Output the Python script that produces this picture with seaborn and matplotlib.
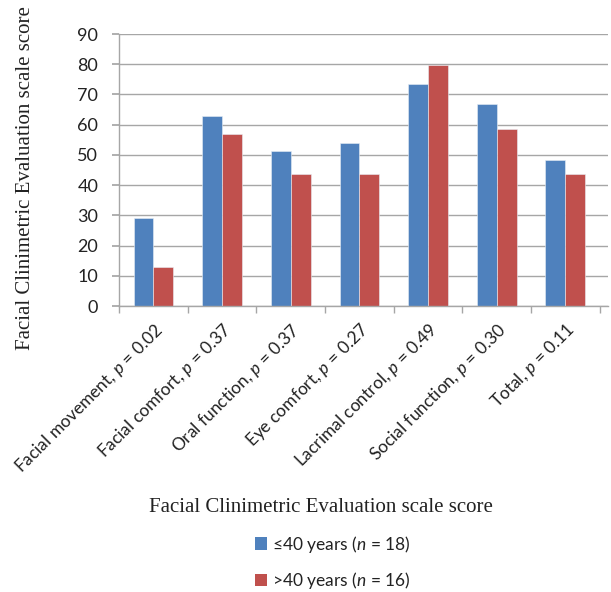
import matplotlib
matplotlib.use("Agg")
import matplotlib.pyplot as plt
import seaborn as sns
import pandas as pd
from matplotlib.patches import Patch
from matplotlib.ticker import FixedLocator

categories = ["Facial movement, $p$ = 0.02", "Facial comfort, $p$ = 0.37",
              "Oral function, $p$ = 0.37", "Eye comfort, $p$ = 0.27",
              "Lacrimal control, $p$ = 0.49", "Social function, $p$ = 0.30",
              "Total, $p$ = 0.11"]
young = [29.1, 62.9, 51.3, 54.1, 73.6, 66.9, 48.2]
old = [13.0, 56.8, 43.7, 43.7, 79.8, 58.6, 43.6]
series = ["≤40 years ($n$ = 18)", ">40 years ($n$ = 16)"]
colors = ["#4F81BD", "#C0504D"]

df = pd.DataFrame({
    "cat": categories * 2,
    "score": young + old,
    "group": [series[0]] * 7 + [series[1]] * 7,
})

sns.set_theme(style="white")
plt.rcParams['font.family'] = ['Lato', 'DejaVu Sans']
plt.rcParams['mathtext.fontset'] = 'custom'
plt.rcParams['mathtext.it'] = 'Lato:italic'
plt.rcParams['mathtext.rm'] = 'Lato'

fig = plt.figure(figsize=(6.11, 5.92), dpi=100)
ax = fig.add_axes([0.195, 0.483, 0.80, 0.4595])

sns.barplot(data=df, x="cat", y="score", hue="group", palette=colors,
            width=0.58, saturation=1, ax=ax, legend=False, order=categories,
            edgecolor="#E8EEF5", linewidth=0.4)

ax.set_ylim(0, 90)
ax.set_xlim(-0.5, 6.62)
ax.set_yticks(range(0, 91, 10))
ax.yaxis.grid(True, color="#A6A6A6", linewidth=1)
ax.set_axisbelow(True)
for s in ["top", "right"]:
    ax.spines[s].set_visible(False)
for s in ["left", "bottom"]:
    ax.spines[s].set_color("#A6A6A6")
    ax.spines[s].set_linewidth(1)

ax.tick_params(axis="y", which="major", left=True, length=5, color="#A6A6A6",
               labelsize=13, labelcolor="#222222", pad=10)
ax.tick_params(axis="x", which="major", bottom=False, labelsize=12.5,
               labelcolor="#222222", pad=4)
ax.xaxis.set_minor_locator(FixedLocator([i - 0.5 for i in range(8)]))
ax.tick_params(axis="x", which="minor", bottom=True, length=5, color="#A6A6A6")
ax.set_xticks(range(7))
ax.set_xticklabels(categories, rotation=45, ha="right", rotation_mode="anchor")

ax.set_ylabel("Facial Clinimetric Evaluation scale score",
              family="Liberation Serif", fontsize=15, color="#222222")
ax.yaxis.set_label_coords(-0.172, 0.472)
ax.set_xlabel("")
fig.text(0.525, 0.143, "Facial Clinimetric Evaluation scale score",
         family="Liberation Serif", fontsize=15, color="#222222",
         ha="center", va="center")

handles = [Patch(facecolor=c, edgecolor="none") for c in colors]
leg = fig.legend(handles, series, loc="center", bbox_to_anchor=(0.545, 0.05),
                 frameon=False, fontsize=12.5, handlelength=0.7, handleheight=0.7,
                 handletextpad=0.3, labelspacing=0.9, labelcolor="#222222")

fig.savefig("out.png", dpi=100)
